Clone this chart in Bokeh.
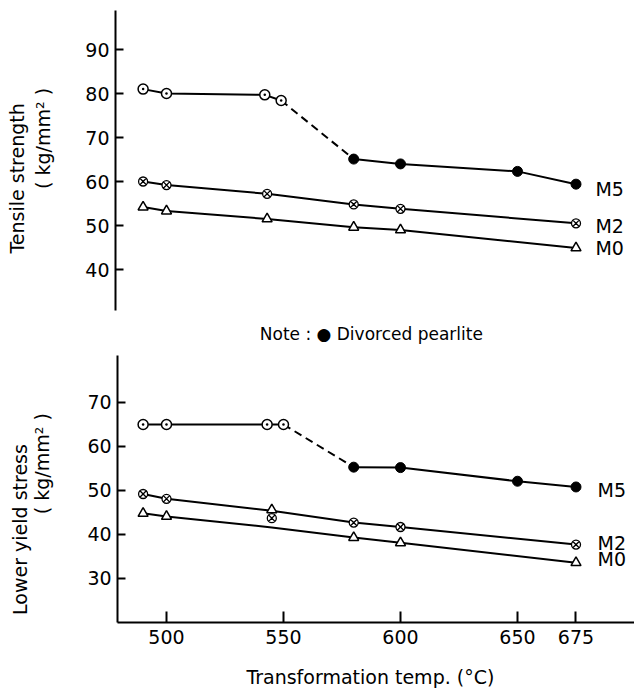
import math
from bokeh.plotting import figure
from bokeh.layouts import column
from bokeh.models import Label, Range1d, FixedTicker
from bokeh.embed import file_html
from bokeh.resources import INLINE

FONT = "DejaVu Sans"

# ---------------- data ----------------
x_ticks = [500, 550, 600, 650, 675]
ts_ticks = [40, 50, 60, 70, 80, 90]
ys_ticks = [30, 40, 50, 60, 70]

# Tensile strength (kg/mm^2)
ts_m5_x = [490, 500, 542, 549, 580, 600, 650, 675]
ts_m5_y = [81.0, 80.0, 79.7, 78.4, 65.1, 64.0, 62.3, 59.4]
ts_m2_x = [490, 500, 543, 580, 600, 675]
ts_m2_y = [60.0, 59.2, 57.2, 54.8, 53.8, 50.5]
ts_m0_x = [490, 500, 543, 580, 600, 675]
ts_m0_y = [54.2, 53.3, 51.5, 49.6, 49.0, 44.9]

# Lower yield stress (kg/mm^2)
ys_m5_x = [490, 500, 543, 550, 580, 600, 650, 675]
ys_m5_y = [65.0, 65.0, 65.0, 65.0, 55.3, 55.2, 52.1, 50.8]
ys_m2_x = [490, 500, 545, 580, 600, 675]
ys_m2_y = [49.2, 48.1, 43.7, 42.7, 41.7, 37.7]
ys_m2_line = [49.2, 48.1, 45.4, 42.7, 41.7, 37.7]
ys_m0_x = [490, 500, 545, 580, 600, 675]
ys_m0_y = [44.8, 44.1, 45.6, 39.3, 38.1, 33.6]
ys_m0_line = [44.8, 44.1, 41.6, 39.3, 38.1, 33.6]

N_LAMELLAR = 4  # first points of M5: open dotted circle; remaining: divorced pearlite (filled)


def style(p, yticks, show_x, y_axis_at, y_bounds, x_axis_at=None, x_bounds=None):
    p.outline_line_color = None
    p.xgrid.visible = False
    p.ygrid.visible = False
    p.background_fill_color = "white"
    p.border_fill_color = "white"
    for ax in (p.xaxis[0], p.yaxis[0]):
        ax.axis_line_width = 2
        ax.axis_line_color = "black"
        ax.major_tick_line_width = 2
        ax.major_tick_line_color = "black"
        ax.major_tick_in = 8
        ax.major_tick_out = 0
        ax.minor_tick_line_color = None
        ax.major_label_text_font = FONT
        ax.major_label_text_font_size = "19px"
        ax.major_label_text_color = "black"
    p.yaxis[0].ticker = FixedTicker(ticks=yticks)
    p.yaxis[0].major_label_standoff = 6
    p.yaxis[0].fixed_location = y_axis_at
    p.yaxis[0].bounds = y_bounds
    p.xaxis[0].ticker = FixedTicker(ticks=x_ticks)
    p.xaxis[0].major_tick_in = 11
    p.xaxis[0].major_label_standoff = 8
    p.xaxis[0].visible = show_x
    if show_x:
        p.xaxis[0].fixed_location = x_axis_at
        p.xaxis[0].bounds = x_bounds


def series(p, m5x, m5y, m2x, m2y, m2l, m0x, m0y, m0l):
    k = N_LAMELLAR
    lw = 2
    p.line(m5x[:k], m5y[:k], line_color="black", line_width=lw)
    p.line(m5x[k - 1:k + 1], m5y[k - 1:k + 1], line_color="black", line_width=lw, line_dash="8 5")
    p.line(m5x[k:], m5y[k:], line_color="black", line_width=lw)
    p.line(m2x, m2l, line_color="black", line_width=lw)
    p.line(m0x, m0l, line_color="black", line_width=lw)
    p.scatter(m5x[:k], m5y[:k], marker="circle_dot", size=10, fill_color="white",
              line_color="black", line_width=1.5)
    p.scatter(m5x[k:], m5y[k:], marker="circle", size=10, fill_color="black", line_color="black")
    p.scatter(m2x, m2y, marker="circle_x", size=9, fill_color="white", line_color="black", line_width=1.3)
    p.scatter(m0x, m0y, marker="triangle", size=10, fill_color="white", line_color="black", line_width=1.5)


def lab(p, x, y, text, size="19px", angle=0.0, align="center"):
    p.add_layout(Label(x=x, y=y, text=text, angle=angle, text_align=align, text_baseline="middle",
                       text_font=FONT, text_font_size=size, text_color="black"))


common = dict(output_backend="svg", toolbar_location=None,
              min_border_left=0, min_border_right=0, min_border_top=0, min_border_bottom=0)

# ---------------- top: tensile strength ----------------
p1 = figure(width=634, height=345, x_range=Range1d(429.06, 700.0),
            y_range=Range1d(22.73, 101.14), **common)
style(p1, ts_ticks, False, 478.2, (30.7, 98.9))
series(p1, ts_m5_x, ts_m5_y, ts_m2_x, ts_m2_y, ts_m2_y, ts_m0_x, ts_m0_y, ts_m0_y)
lab(p1, 436.3, 61.4, "Tensile  strength", angle=math.pi / 2)
lab(p1, 447.4, 69.8, "( kg/mm\u00b2 )", angle=math.pi / 2)
lab(p1, 683.3, 58.4, "M5", align="left")
lab(p1, 683.3, 49.8, "M2", align="left")
lab(p1, 683.3, 44.8, "M0", align="left")
lab(p1, 591.0, 25.45, "Note :  \u25cf  Divorced  pearlite", size="17px")

# ---------------- bottom: lower yield stress ----------------
p2 = figure(width=634, height=344, x_range=Range1d(429.06, 700.0),
            y_range=Range1d(4.77, 82.95), **common)
style(p2, ys_ticks, True, 479.1, (20.0, 80.7), x_axis_at=20.0, x_bounds=(479.1, 700.0))
series(p2, ys_m5_x, ys_m5_y, ys_m2_x, ys_m2_y, ys_m2_line, ys_m0_x, ys_m0_y, ys_m0_line)
lab(p2, 437.6, 42.5, "Lower  yield  stress", angle=math.pi / 2)
lab(p2, 447.0, 56.1, "( kg/mm\u00b2 )", angle=math.pi / 2)
lab(p2, 684.2, 50.0, "M5", align="left")
lab(p2, 684.2, 38.0, "M2", align="left")
lab(p2, 684.2, 34.5, "M0", align="left")
lab(p2, 591.0, 7.5, "Transformation  temp.   (\u00b0C)")

layout = column(p1, p2, spacing=0)
open("out.html", "w").write(file_html(layout, INLINE))
